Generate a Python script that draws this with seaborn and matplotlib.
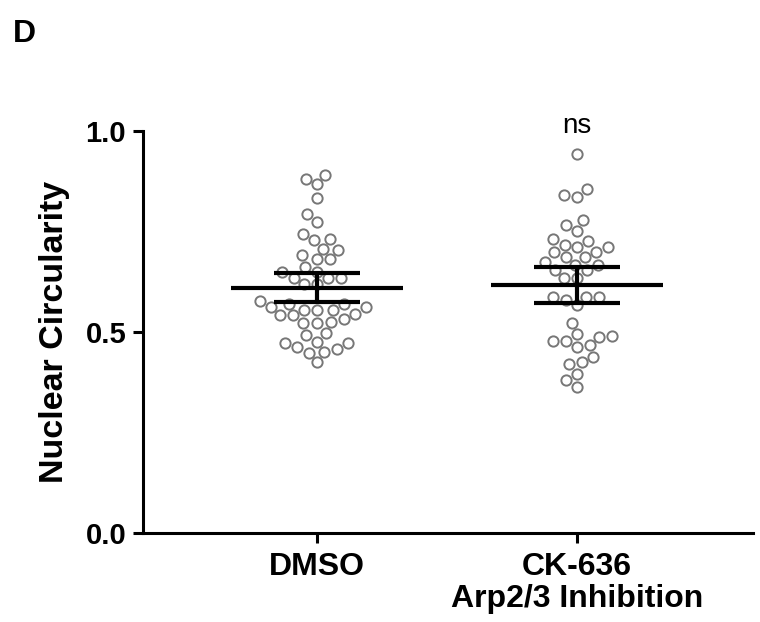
import numpy as np
import pandas as pd
import matplotlib
matplotlib.use("Agg")
import matplotlib.pyplot as plt
import seaborn as sns

sns.set_theme(style="ticks")
plt.rcParams['font.family'] = ['Liberation Sans', 'DejaVu Sans']
plt.rcParams['text.color'] = 'black'
plt.rcParams['xtick.color'] = 'black'
plt.rcParams['ytick.color'] = 'black'
plt.rcParams['axes.labelcolor'] = 'black'

groups = ["DMSO", "CK-636\nArp2/3 Inhibition"]

dmso = [0.891, 0.882, 0.868, 0.833, 0.793, 0.774, 0.744, 0.733, 0.729, 0.708,
        0.704, 0.692, 0.681, 0.681, 0.663, 0.650, 0.650, 0.636, 0.636, 0.634,
        0.619, 0.619, 0.578, 0.571, 0.570, 0.563, 0.563, 0.556, 0.556, 0.555,
        0.546, 0.542, 0.542, 0.532, 0.526, 0.522, 0.522, 0.498, 0.493, 0.476,
        0.472, 0.472, 0.462, 0.457, 0.451, 0.449, 0.426]
ck636 = [0.944, 0.856, 0.841, 0.837, 0.779, 0.766, 0.752, 0.731, 0.727, 0.718,
         0.712, 0.711, 0.700, 0.700, 0.687, 0.687, 0.675, 0.667, 0.667, 0.655,
         0.654, 0.635, 0.634, 0.588, 0.588, 0.588, 0.580, 0.567, 0.523, 0.495,
         0.490, 0.488, 0.478, 0.478, 0.468, 0.462, 0.439, 0.426, 0.420, 0.396,
         0.381, 0.364]
sig_label = "ns"

df = pd.DataFrame({
    "group": [groups[0]] * len(dmso) + [groups[1]] * len(ck636),
    "value": dmso + ck636,
})

fig = plt.figure(figsize=(7.6, 6.22), dpi=100)
ax = fig.add_axes([0.188, 0.143, 0.803, 0.646])

sns.swarmplot(data=df, x="group", y="value", order=groups, ax=ax,
              color="white", edgecolor="#777777", linewidth=1.4, size=7.4)

# mean with 95% CI
stats = df.groupby("group", sort=False)["value"].agg(["mean", "std", "count"]).reindex(groups)
ci = 2.02 * stats["std"] / np.sqrt(stats["count"])
for i, g in enumerate(groups):
    m = stats.loc[g, "mean"]
    c = ci.loc[g]
    ax.hlines(m, i - 0.33, i + 0.33, color="black", lw=3, zorder=5)
    ax.hlines([m - c, m + c], i - 0.165, i + 0.165, color="black", lw=3, zorder=5)
    ax.vlines(i, m - c, m + c, color="black", lw=3, zorder=5)

ax.text(1, 0.995, sig_label, ha="center", va="baseline", fontsize=20)

ax.set_ylim(0, 1.0)
ax.set_xlim(-0.67, 1.677)
ax.set_yticks([0, 0.5, 1.0])
ax.set_yticklabels(["0.0", "0.5", "1.0"])
ax.set_xlabel("")
ax.set_ylabel("Nuclear Circularity", fontsize=24.5, fontweight="bold", labelpad=11)
for lab in ax.get_xticklabels():
    lab.set_fontsize(23)
    lab.set_fontweight("bold")
    lab.set_linespacing(1.05)
for lab in ax.get_yticklabels():
    lab.set_fontsize(21)
    lab.set_fontweight("bold")
ax.tick_params(axis="both", length=7, width=2.2, color="black", pad=5)
ax.tick_params(axis="x", pad=7)
sns.despine(ax=ax)
for s in ["left", "bottom"]:
    ax.spines[s].set_linewidth(2.2)
    ax.spines[s].set_color("black")

fig.text(0.017, 0.946, "D", fontsize=23, fontweight="bold", ha="left", va="center")

fig.savefig("out.png", dpi=100)
